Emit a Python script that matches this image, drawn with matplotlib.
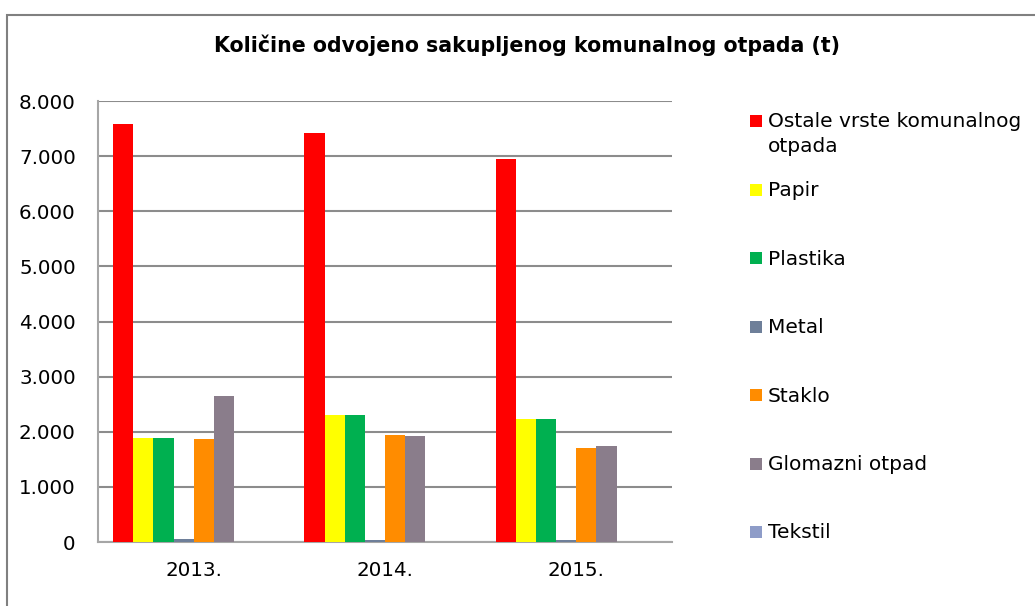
import matplotlib
matplotlib.use("Agg")
import matplotlib.pyplot as plt
from matplotlib.patches import Rectangle
from matplotlib.ticker import FuncFormatter
import numpy as np

plt.rcParams['font.family'] = ['DejaVu Sans']

title = "Količine odvojeno sakupljenog komunalnog otpada (t)"
categories = ["2013.", "2014.", "2015."]
series_names = ["Ostale vrste komunalnog\notpada", "Papir", "Plastika", "Metal",
                "Staklo", "Glomazni otpad", "Tekstil"]
ostale = [7590, 7420, 6950]
papir = [1885, 2300, 2230]
plastika = [1885, 2300, 2228]
metal = [50, 30, 30]
staklo = [1875, 1940, 1700]
glomazni = [2640, 1915, 1750]
tekstil = [5, 5, 5]
colors = ["#FF0000", "#FFFF00", "#00B050", "#6E7F99", "#FF8C00", "#8A7D8B", "#8E9CC8"]
values = [ostale, papir, plastika, metal, staklo, glomazni, tekstil]

W, H = 1035, 606
fig = plt.figure(figsize=(W / 100, H / 100), dpi=100)
ax = fig.add_axes([98/W, 1-542/H, (672-98)/W, (542-101)/H])

n_slots = 8  # chart group has 8 slots (gap width 150%)
w = 1.0 / (n_slots + 1.5)
x = np.arange(len(categories))
for i, (name, vals, c) in enumerate(zip(series_names, values, colors)):
    off = (i - (n_slots - 1) / 2) * w
    ax.bar(x + off, vals, width=w, color=c, label=name, zorder=3)

ax.set_xlim(-0.5, len(categories) - 0.5)
ax.set_ylim(0, 8000)
ax.set_yticks(range(0, 8001, 1000))
ax.yaxis.set_major_formatter(FuncFormatter(lambda v, p: f"{int(v):,}".replace(",", ".")))
ax.set_xticks(x)
ax.set_xticklabels(categories)
ax.tick_params(axis='both', length=0, labelsize=14.3, colors='black')
ax.tick_params(axis='x', pad=14)
ax.tick_params(axis='y', pad=16)
ax.grid(axis='y', color='#8C8C8C', linewidth=1.5, zorder=0)
for s in ['top', 'right']:
    ax.spines[s].set_visible(False)
for s in ['left', 'bottom']:
    ax.spines[s].set_color('#A6A6A6')
    ax.spines[s].set_linewidth(1.5)

fig.text(527/W, 1-45/H, title, ha='center', va='center', fontsize=14.8,
         fontweight='bold')

# legend (entries aligned to first text line, as in the original)
leg_x_marker = 750
leg_x_text = 768
leg_y0 = 121
leg_step = 68.5
for i, (name, c) in enumerate(zip(series_names, colors)):
    yc = leg_y0 + i * leg_step
    fig.patches.append(Rectangle((leg_x_marker/W, 1-(yc+6)/H), 12/W, 12/H,
                                 transform=fig.transFigure, facecolor=c,
                                 edgecolor='none'))
    fig.text(leg_x_text/W, 1-(yc-8.5)/H, name, ha='left', va='top',
             fontsize=14.5, linespacing=1.35)

# outer chart border (partially cropped)
fig.patches.append(Rectangle((7/W, -0.1), 1.2, 1 - 15/H + 0.1,
                             transform=fig.transFigure, fill=False,
                             edgecolor='#808080', linewidth=1.5))

fig.savefig("out.png", dpi=100)
